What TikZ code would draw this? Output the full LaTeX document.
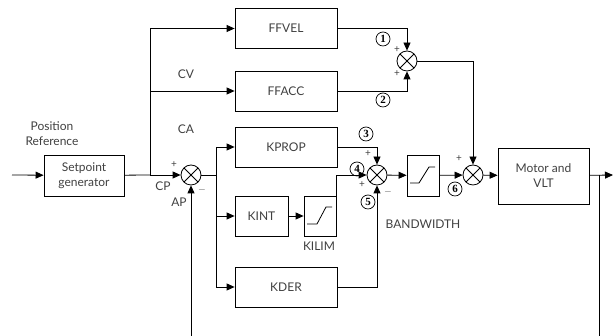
\documentclass[tikz,border=0pt]{standalone}
\usepackage{fontspec}
\setmainfont{Lato}
\newfontfamily\numfont{Liberation Serif}
\usetikzlibrary{arrows.meta}

\begin{document}
\begin{tikzpicture}[x=1pt, y=1pt, line width=0.8pt, text=black!75,
  font=\fontsize{12}{15}\selectfont,
  >={Triangle[length=8pt, width=7pt]},
  block/.style={draw, minimum width=102pt, minimum height=40pt, inner sep=0pt},
  summer/.style={draw, circle, minimum size=20pt, inner sep=0pt,
    path picture={\draw (path picture bounding box.north west) -- (path picture bounding box.south east)
      (path picture bounding box.south west) -- (path picture bounding box.north east);}},
  sgn/.style={font=\fontsize{10}{10}\selectfont, inner sep=0pt},
  cnum/.style={circle, draw, line width=0.7pt, inner sep=0pt, minimum size=14pt,
    font=\numfont\bfseries\fontsize{11}{11}\selectfont, text=black}]
\useasboundingbox (0,0) rectangle (614,336);
\coordinate (in) at (12,161);
\node[block, minimum width=80pt, minimum height=41pt, align=center] (spg) at (84,160.5) {Setpoint\\generator};
\node[align=center] (posref) at (52,202) {Position\\Reference};
\coordinate (br1) at (150,161);
\node[summer] (s1) at (191,161) {};
\node[block] (ffvel) at (286,307.5) {FFVEL};
\node[block] (ffacc) at (286,245) {FFACC};
\node[summer] (s2) at (407,275) {};
\node[block] (kprop) at (286,189) {KPROP};
\coordinate (br2) at (216,161);
\node[block, minimum width=53pt] (kint) at (261.5,120) {KINT};
\node[block, minimum width=32pt] (kilim) at (320,120) {};
\node[block] (kder) at (286,49) {KDER};
\node[summer] (s3) at (377,161) {};
\node[block, minimum width=32pt, minimum height=41pt] (bw) at (423,160.5) {};
\node[summer] (s4) at (473,161) {};
\node[block, minimum width=91pt, minimum height=56pt, align=center] (motor) at (543.5,160) {Motor and\\VLT};
\coordinate (out) at (613,161);
\coordinate (fb) at (599,161);
\coordinate (fbend) at (599,0);
\coordinate (apin) at (191,0);
\draw[->] (in) -- (spg);
\draw (spg) -- (br1);
\draw[->] (br1) -- (s1);
\draw[->] (br1) |- (ffvel);
\draw[->] (br1) |- (ffacc);
\draw[->] (ffvel) -| (s2);
\draw[->] (ffacc) -| (s2);
\draw (s1) -- (br2);
\draw[->] (br2) |- (kprop);
\draw[->] (br2) |- (kint);
\draw[->] (br2) |- (kder);
\draw[->] (kint) -- (kilim);
\draw[->] (kprop) -| (s3);
\draw[->] (kilim.north east) |- (s3);
\draw[->] (kder) -| (s3);
\draw[->] (s3) -- (bw);
\draw[->] (bw) -- (s4);
\draw[->] (s2) -| (s4);
\draw[->] (s4) -- (motor);
\draw[->] (motor) -- (out);
\draw (fb) -- (fbend);
\draw[->] (apin) -- (s1);
\draw ([shift={(-13,-8)}]kilim.center) -- ++(10,0) -- ++(9,17) -- ++(6,0);
\draw ([shift={(-13,-7.5)}]bw.center) -- ++(9,0) -- ++(10,16) -- ++(6,0);
\node (cv) at (186,262) {CV};
\node (ca) at (186,207) {CA};
\node (cp) at (163,150) {CP};
\node (ap) at (179,134) {AP};
\node (kilimlbl) at (319,90) {KILIM};
\node (bwlbl) at (423,112) {BANDWIDTH};
\node[sgn] at (174,171) {+};
\node[sgn] at (202,146) {$-$};
\node[sgn] at (397,286) {+};
\node[sgn] at (397,262) {+};
\node[sgn] at (368,182) {+};
\node[sgn] at (362,151) {+};
\node[sgn] at (388,144) {$-$};
\node[sgn] at (459,177) {+};
\node[cnum] (n1) at (383,297) {1};
\node[cnum] (n2) at (383,236) {2};
\node[cnum] (n3) at (366,202) {3};
\node[cnum] (n4) at (357,167) {4};
\node[cnum] (n5) at (368,134) {5};
\node[cnum] (n6) at (455,147) {6};
\end{tikzpicture}
\end{document}
